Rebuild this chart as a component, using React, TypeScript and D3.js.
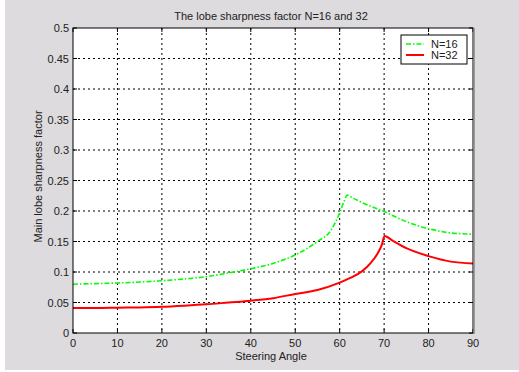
import React from 'react';
import * as d3 from 'd3';

// steering angle (deg) -> main lobe sharpness factor
const anglesN16 = [0, 5, 10, 15, 20, 25, 30, 35, 40, 45, 50, 55, 58, 60, 61, 61.7, 63, 65, 70, 75, 80, 85, 90];
const valuesN16 = [0.080, 0.081, 0.082, 0.0835, 0.0857, 0.0885, 0.0923, 0.0985, 0.1054, 0.114, 0.128, 0.150, 0.168, 0.197, 0.216, 0.226, 0.221, 0.214, 0.199, 0.1825, 0.171, 0.164, 0.162];

const anglesN32 = [0, 5, 10, 15, 20, 25, 30, 35, 40, 45, 50, 55, 60, 62, 65, 67, 68.5, 69.5, 70.1, 72, 75, 80, 85, 90];
const valuesN32 = [0.041, 0.041, 0.0415, 0.042, 0.043, 0.0448, 0.047, 0.050, 0.053, 0.057, 0.064, 0.0705, 0.0825, 0.089, 0.101, 0.115, 0.130, 0.145, 0.159, 0.151, 0.139, 0.126, 0.117, 0.114];

const xTicks = [0, 10, 20, 30, 40, 50, 60, 70, 80, 90];
const yTicks = [0, 0.05, 0.1, 0.15, 0.2, 0.25, 0.3, 0.35, 0.4, 0.45, 0.5];

const W = 519;
const H = 372;
const margin = { left: 73, right: 46, top: 28, bottom: 39 };
const font = '"Liberation Sans", Arial, sans-serif';

export default function App() {
  const x = d3.scaleLinear().domain([0, 90]).range([margin.left, W - margin.right]);
  const y = d3.scaleLinear().domain([0, 0.5]).range([H - margin.bottom, margin.top]);

  const line = d3
    .line<[number, number]>()
    .x(d => x(d[0]))
    .y(d => y(d[1]))
    .curve(d3.curveMonotoneX);

  const n16 = anglesN16.map((a, i) => [a, valuesN16[i]] as [number, number]);
  const n32 = anglesN32.map((a, i) => [a, valuesN32[i]] as [number, number]);

  const [x0, x1] = x.range();
  const [y0, y1] = y.range();
  const tick = 4;

  return (
    <div style={{ position: 'fixed', left: 0, top: 0 }}>
      <svg width={W} height={H} style={{ display: 'block' }}>
        <rect x={0} y={0} width={W} height={H} fill="#ffffff" />
        <rect x={5} y={0} width={W - 5} height={H - 2} fill="#dddbdd" />
        <rect x={x0} y={y1} width={x1 - x0} height={y0 - y1} fill="#ffffff" />

        {/* grid */}
        {xTicks.slice(1, -1).map(t => (
          <line key={'gx' + t} x1={x(t)} x2={x(t)} y1={y1} y2={y0} stroke="#000" strokeWidth={1} strokeDasharray="2,3" />
        ))}
        {yTicks.slice(1, -1).map(t => (
          <line key={'gy' + t} x1={x0} x2={x1} y1={y(t)} y2={y(t)} stroke="#000" strokeWidth={1} strokeDasharray="2,3" />
        ))}

        {/* ticks */}
        {xTicks.map(t => (
          <g key={'tx' + t}>
            <line x1={x(t)} x2={x(t)} y1={y0} y2={y0 - tick} stroke="#000" />
            <line x1={x(t)} x2={x(t)} y1={y1} y2={y1 + tick} stroke="#000" />
            <text x={x(t)} y={y0 + 14} textAnchor="middle" fontFamily={font} fontSize={11} fill="#222">
              {t}
            </text>
          </g>
        ))}
        {yTicks.map(t => (
          <g key={'ty' + t}>
            <line x1={x0} x2={x0 + tick} y1={y(t)} y2={y(t)} stroke="#000" />
            <line x1={x1} x2={x1 - tick} y1={y(t)} y2={y(t)} stroke="#000" />
            <text x={x0 - 4} y={y(t) + 4} textAnchor="end" fontFamily={font} fontSize={11} fill="#222">
              {d3.format('~g')(t)}
            </text>
          </g>
        ))}

        {/* curves */}
        <path d={line(n16) || ''} fill="none" stroke="#00ff00" strokeWidth={1.6} strokeDasharray="5,2,1.5,2" />
        <path d={line(n32) || ''} fill="none" stroke="#ff0000" strokeWidth={2} />

        {/* axes box */}
        <rect x={x0} y={y1} width={x1 - x0} height={y0 - y1} fill="none" stroke="#000" strokeWidth={1} />
        <line x1={x1 + 1} x2={x1 + 1} y1={y1} y2={y0 + 1} stroke="#888" strokeWidth={1.5} />

        {/* legend */}
        <rect x={401} y={35} width={66} height={29} fill="#fff" stroke="#000" strokeWidth={1} />
        <line x1={406} x2={424} y1={44} y2={44} stroke="#00ff00" strokeWidth={1.6} strokeDasharray="5,2,1.5,2" />
        <text x={431} y={48} fontFamily={font} fontSize={11} fill="#222">N=16</text>
        <line x1={406} x2={424} y1={55} y2={55} stroke="#ff0000" strokeWidth={2} />
        <text x={431} y={59} fontFamily={font} fontSize={11} fill="#222">N=32</text>

        {/* labels */}
        <text x={(x0 + x1) / 2 - 2} y={20} textAnchor="middle" fontFamily={font} fontSize={11} fill="#222">
          The lobe sharpness factor N=16 and 32
        </text>
        <text x={(x0 + x1) / 2 - 2} y={360} textAnchor="middle" fontFamily={font} fontSize={11} fill="#222">
          Steering Angle
        </text>
        <text
          transform={`translate(42,${(y0 + y1) / 2 - 4}) rotate(-90)`}
          textAnchor="middle"
          fontFamily={font}
          fontSize={11}
          fill="#222"
        >
          Main lobe sharpness factor
        </text>
      </svg>
    </div>
  );
}
